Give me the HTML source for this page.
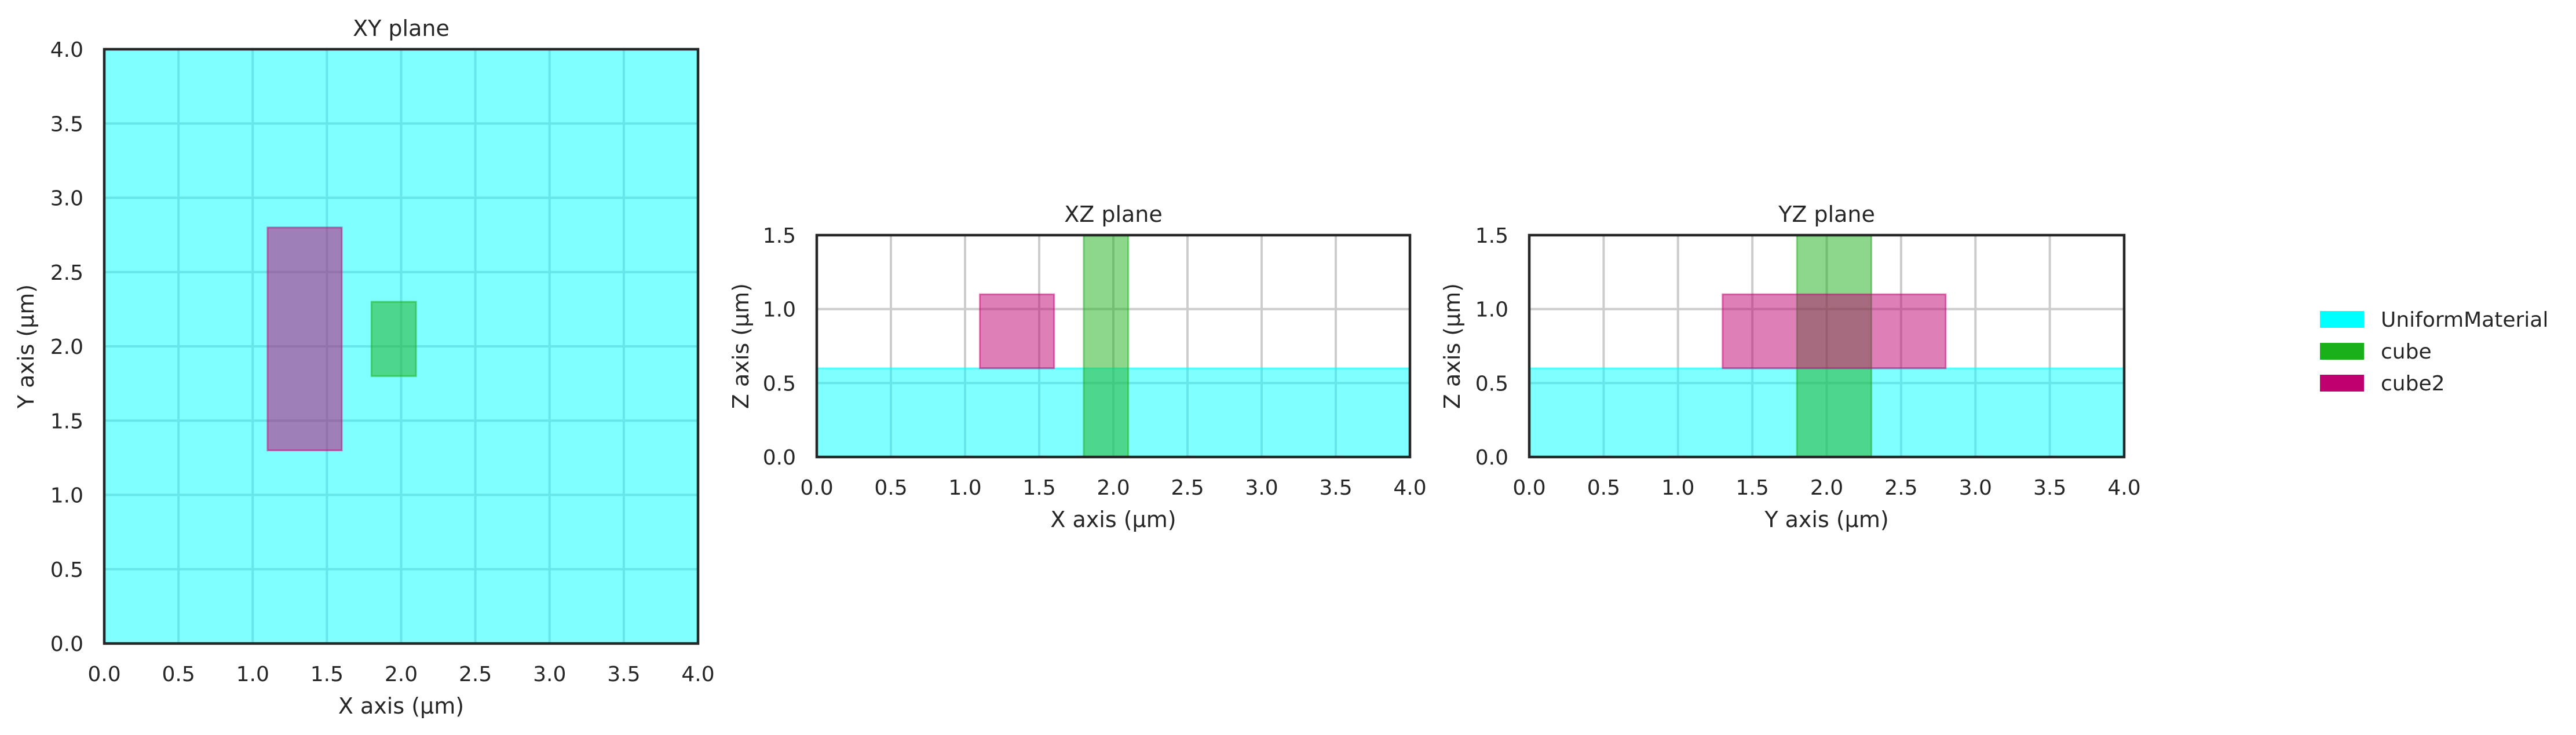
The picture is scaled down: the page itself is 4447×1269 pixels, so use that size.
<!DOCTYPE html>
<html><head><meta charset="utf-8"><style>
html,body{margin:0;padding:0;background:#fff}
svg{display:block;font-family:"DejaVu Sans","Liberation Sans",sans-serif;fill:#262626}
</style></head><body>
<svg id="c" width="4447" height="1269" viewBox="0 0 4447 1269" xmlns="http://www.w3.org/2000/svg"></svg>
<script>
const ticksH = [0,0.5,1,1.5,2,2.5,3,3.5,4];
const ticksXY = [0,0.5,1,1.5,2,2.5,3,3.5,4];
const ticksZ = [0,0.5,1,1.5];
const materials = ["UniformMaterial","cube","cube2"];
const matColors = ["#00ffff","#19b01a","#c0006f"];
// rectangles per plane: [material index, h0, h1, v0, v1]
const xyRects = [[0,0,4,0,4],[1,1.8,2.1,1.8,2.3],[2,1.1,1.6,1.3,2.8]];
const xzRects = [[0,0,4,0,0.6],[1,1.8,2.1,0,1.5],[2,1.1,1.6,0.6,1.1]];
const yzRects = [[0,0,4,0,0.6],[1,1.8,2.3,0,1.5],[2,1.3,2.8,0.6,1.1]];

const NS="http://www.w3.org/2000/svg";
const svg=document.getElementById('c');
function mk(tag,attrs,parent,text){const e=document.createElementNS(NS,tag);for(const k in attrs)e.setAttribute(k,attrs[k]);if(text!==undefined)e.textContent=text;(parent||svg).appendChild(e);return e;}

function panel(name,L,T,W,H,hMax,vMax,hTicks,vTicks,rects,title,xl,yl,ylX){
  const g=mk('g',{});
  
  
  const sx=v=>L+v/hMax*W, sy=v=>T+H-v/vMax*H;
  mk('rect',{x:L,y:T,width:W,height:H,fill:'#fff'},g);
  hTicks.forEach(t=>{
    mk('line',{x1:sx(t),x2:sx(t),y1:T,y2:T+H,stroke:'#cccccc','stroke-width':4},g);
    const tl=mk('text',{x:sx(t),y:T+H+65,'text-anchor':'middle','font-size':36},g,t.toFixed(1));
    
    
  });
  vTicks.forEach(t=>{
    mk('line',{x1:L,x2:L+W,y1:sy(t),y2:sy(t),stroke:'#cccccc','stroke-width':4},g);
    const tl=mk('text',{x:L-36,y:sy(t)+13,'text-anchor':'end','font-size':36},g,t.toFixed(1));
    
    
  });
  rects.forEach(r=>{
    const x0=sx(r[1]),x1=sx(r[2]),y0=sy(r[4]),y1=sy(Math.min(r[3],vMax));
    const yy=Math.max(y0,T);
    const e=mk('rect',{x:x0,y:yy,width:x1-x0,height:y1-yy,fill:matColors[r[0]],'fill-opacity':0.5,stroke:matColors[r[0]],'stroke-opacity':0.5,'stroke-width':3},g);
    
    
  });
  mk('rect',{x:L,y:T,width:W,height:H,fill:'none',stroke:'#262626','stroke-width':4.5},g);
  const tt=mk('text',{x:L+W/2,y:T-23,'text-anchor':'middle','font-size':38},g,title);
  
  
  const xt=mk('text',{x:L+W/2,y:T+H+121,'text-anchor':'middle','font-size':38},g,xl);
  
  
  const yt=mk('text',{x:ylX,y:T+H/2,'text-anchor':'middle','font-size':38,transform:`rotate(-90 ${ylX} ${T+H/2})`},g,yl);
  
  
}
panel('xy-plane',180,85,1025,1026,4,4,ticksH,ticksXY,xyRects,'XY plane','X axis (µm)','Y axis (µm)',58);
panel('xz-plane',1410,406,1024,383,4,1.5,ticksH,ticksZ,xzRects,'XZ plane','X axis (µm)','Z axis (µm)',1292);
panel('yz-plane',2640,406,1027,383,4,1.5,ticksH,ticksZ,yzRects,'YZ plane','Y axis (µm)','Z axis (µm)',2520);

const lg=mk('g',{});


materials.forEach((m,i)=>{
  const y=537+i*55;
  const p=mk('rect',{x:4005,y:y,width:76,height:29,fill:matColors[i]},lg);
  
  
  const t=mk('text',{x:4110,y:y+27,'font-size':36},lg,m);
  
  
});
</script>
</body></html>
